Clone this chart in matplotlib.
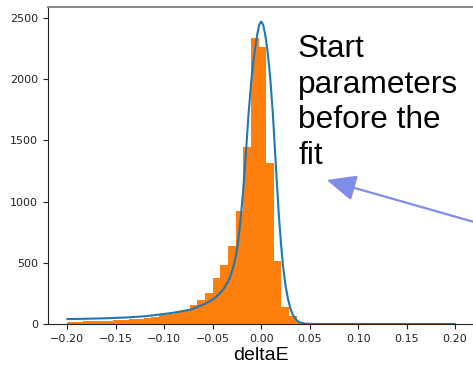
import matplotlib
matplotlib.use("Agg")
import matplotlib.pyplot as plt
import numpy as np
from matplotlib.patches import FancyArrowPatch

# ---- data ----
bin_start = -0.2
bin_width = 0.00789
counts = [20, 20, 22, 22, 25, 28, 30, 33, 38, 43,
          50, 60, 70, 82, 100, 110, 155, 200, 250, 373,
          482, 640, 923, 1449, 2340, 2260, 1313, 515, 141, 65,
          19, 5, 12, 10, 2, 1, 1, 0, 0, 0,
          0, 0, 0, 0, 0, 0, 0, 0, 0, 0]

curve_x = [-0.200, -0.180, -0.160, -0.140, -0.120, -0.100, -0.090, -0.080,
           -0.073, -0.066, -0.058, -0.050, -0.044, -0.039, -0.035, -0.032,
           -0.029, -0.026, -0.024, -0.0216, -0.019, -0.0162, -0.0130,
           -0.0103, -0.0080, -0.0062, -0.0040, -0.0020, 0.0, 0.0020, 0.0040,
           0.0062, 0.0080, 0.0096, 0.0120, 0.0141, 0.0162, 0.0182, 0.0204,
           0.0224, 0.0250, 0.0275, 0.0300, 0.0327, 0.0360, 0.0390, 0.0450,
           0.0550, 0.100, 0.150, 0.200]
curve_y = [40, 43, 47, 53, 63, 82, 93, 107,
           117, 138, 165, 200, 240, 285, 335, 385,
           460, 560, 660, 830, 1050, 1350, 1720,
           1980, 2150, 2252, 2370, 2445, 2470, 2445, 2370,
           2252, 2120, 1980, 1720, 1435, 1150, 890, 660,
           482, 320, 210, 130, 74, 35, 15, 3,
           0, 0, 0, 0]

xlabel = "deltaE"
annotation = "Start\nparameters\nbefore the\nfit"

# ---- figure ----
W, H = 473, 365
fig = plt.figure(figsize=(W / 100, H / 100), dpi=100)
ax = fig.add_axes([48 / W, 41 / H, 426.4 / W, 317.5 / H])

edges = bin_start + bin_width * np.arange(len(counts) + 1)
centers = 0.5 * (edges[:-1] + edges[1:])
ax.hist(centers, bins=edges, weights=counts, color="#ff7f0e")
ax.plot(curve_x, curve_y, color="#1f77b4", lw=1.5)

ax.tick_params(labelsize=8, colors="#222222")
for s in ["left", "bottom"]:
    ax.spines[s].set_color("#222222")
ax.spines["top"].set_color("#888888")
ax.spines["top"].set_linewidth(1.4)
ax.set_xlabel(xlabel, fontsize=14, family=["Liberation Sans", "DejaVu Sans"],
              labelpad=2)

fig.text(298 / W, 1 - 34 / H, annotation, fontsize=22.8,
         family=["Liberation Sans", "DejaVu Sans"], va="top", ha="left",
         linespacing=1.25)

arr = FancyArrowPatch((500 / W, 1 - 229.4 / H), (326.7 / W, 1 - 180 / H),
                      transform=fig.transFigure,
                      arrowstyle="-|>,head_length=1.8,head_width=0.8",
                      mutation_scale=10, color="#7f8ce8", lw=1.6,
                      shrinkA=0, shrinkB=0)
fig.add_artist(arr)

fig.savefig("out.png", dpi=100)
